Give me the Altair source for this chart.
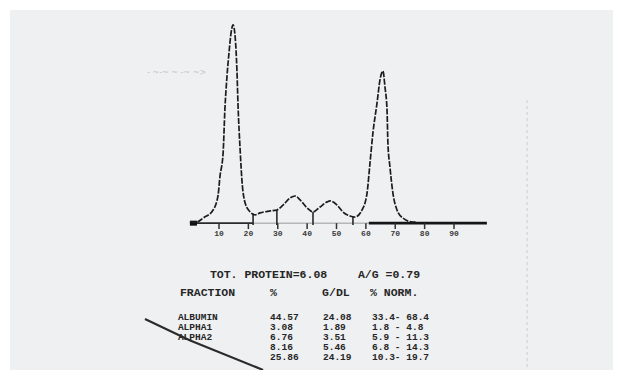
import altair as alt
import pandas as pd

# densitometer trace (x: migration units, y: relative absorbance)
trace_x = [0.1, 2.5, 4.6, 8.0, 9.7, 10.3, 11.4, 12.0, 12.7, 13.4, 14.1, 14.8, 15.5, 16.1, 16.5,
           17.2, 17.8, 18.9, 20.6, 22.3, 24.0, 27.4, 29.7, 31.8, 34.2, 35.9, 37.6, 40.0, 42.0,
           44.4, 46.8, 47.8, 50.2, 52.2, 54.6, 56.3, 58.7, 60.4, 61.4, 62.4, 63.8, 64.8, 65.8,
           66.5, 67.2, 67.5, 68.2, 69.2, 70.6, 72.6, 76.0, 77.4]
trace_y = [0.0, 0.0, 2.0, 6.1, 13.7, 22.8, 35.0, 56.9, 73.6, 85.8, 95.9, 100.0, 93.9, 77.2, 58.4,
           36.5, 21.3, 9.6, 5.1, 3.6, 4.6, 5.6, 6.1, 8.6, 12.2, 13.2, 11.2, 7.1, 5.1,
           7.6, 10.2, 10.7, 8.6, 5.1, 3.0, 2.5, 6.1, 14.7, 29.9, 45.2, 60.4, 72.1, 76.6,
           68.5, 56.9, 40.1, 27.9, 14.7, 6.1, 2.0, 0.0, 0.0]

tick_values = [10, 20, 30, 40, 50, 60, 70, 80, 90]
tick_labels = ["10", "20", "30", "40", "50", "60", "70", "80", "90"]

separator_x = [21.6, 29.7, 42.0, 55.6]
separator_top = [4.3, 6.1, 5.1, 2.6]

baseline_left = [0.1, 21.6]
baseline_mid = [21.6, 61.0]
baseline_right = [61.0, 101.2]
baseline_blob = [0.1, 2.5]

summary_left = "TOT. PROTEIN=6.08"
summary_right = "A/G =0.79"
headers = ["FRACTION", "%", "G/DL", "% NORM."]
fractions = ["ALBUMIN", "ALPHA1", "ALPHA2", "", ""]
percents = ["44.57", "3.08", "6.76", "8.16", "25.86"]
gdl = ["24.08", "1.89", "3.51", "5.46", "24.19"]
normal = ["33.4- 68.4", "1.8 - 4.8", "5.9 - 11.3", "6.8 - 14.3", "10.3- 19.7"]

# scales (data units)
XS = alt.Scale(domain=[-61.15, 144.13], nice=False, zero=False)
YS = alt.Scale(domain=[-75.13, 107.6], nice=False, zero=False)
X = lambda f: alt.X(f, type="quantitative", scale=XS, axis=None)
Y = lambda f: alt.Y(f, type="quantitative", scale=YS, axis=None)

FONT = "Liberation Mono"
INK = "#262626"

trace = alt.Chart(pd.DataFrame({"x": trace_x, "y": trace_y})).mark_line(
    color="#1c1c1c", strokeWidth=1.7, interpolate="monotone", strokeDash=[6, 1.5]
).encode(x=X("x"), y=Y("y"), order="x:Q")

def seg(xs, width, color):
    return alt.Chart(pd.DataFrame({"a": [xs[0]], "b": [xs[1]], "y": [-0.6]})).mark_rule(
        strokeWidth=width, color=color
    ).encode(x=X("a"), x2="b", y=Y("y"))

base_l = seg(baseline_left, 1.8, "#2a2a2a")
base_m = seg(baseline_mid, 1.0, "#9a9a9a")
base_r = seg(baseline_right, 2.6, "#151515")
base_b = seg(baseline_blob, 5, "#111111")

sep = alt.Chart(pd.DataFrame({"x": separator_x, "top": separator_top, "b": [-1.5] * 4})).mark_rule(
    strokeWidth=1.6, color="#2a2a2a"
).encode(x=X("x"), y=Y("b"), y2="top")

ticks = alt.Chart(pd.DataFrame({"x": tick_values, "a": [-0.6] * 9, "b": [-3.6] * 9})).mark_rule(
    strokeWidth=1.5, color="#333333"
).encode(x=X("x"), y=Y("a"), y2="b")

tick_text = alt.Chart(pd.DataFrame({"x": tick_values, "t": tick_labels, "y": [-6.1] * 9})).mark_text(
    font=FONT, fontSize=8, fontWeight="bold", color="#3a3a3a", baseline="middle", align="center"
).encode(x=X("x"), y=Y("y"), text="t:N")

summary = alt.Chart(pd.DataFrame({"x": [6.9, 57.3], "y": [-26.9, -26.9],
                                  "t": [summary_left, summary_right]})).mark_text(
    font=FONT, fontSize=11.5, fontWeight="bold", color=INK, align="left", baseline="middle"
).encode(x=X("x"), y=Y("y"), text="t:N")

head = alt.Chart(pd.DataFrame({"x": [-3.3, 27.4, 45.1, 61.4], "y": [-36.0] * 4, "t": headers})).mark_text(
    font=FONT, fontSize=11.5, fontWeight="bold", color=INK, align="left", baseline="middle"
).encode(x=X("x"), y=Y("y"), text="t:N")

row_y = [-48.2, -53.3, -58.4, -63.5, -68.5]
rows = []
for col_x, vals in [(-4.0, fractions), (27.4, percents), (45.4, gdl), (62.1, normal)]:
    rows.append(alt.Chart(pd.DataFrame({"x": [col_x] * 5, "y": row_y, "t": vals})).mark_text(
        font=FONT, fontSize=9.5, fontWeight="bold", color=INK, align="left", baseline="middle"
    ).encode(x=X("x"), y=Y("y"), text="t:N"))

pen = alt.Chart(pd.DataFrame({"x": [-15.2, 0.0, 25.0], "y": [-49.2, -60.0, -75.1]})).mark_line(
    color="#2b2b2b", strokeWidth=2.2, clip=True
).encode(x=X("x"), y=Y("y"))

scribble = alt.Chart(pd.DataFrame({"x": [-14.5], "y": [75.6], "t": ["- ~-~ ~ -~ ~>"]})).mark_text(
    font="DejaVu Sans", fontSize=8, color="#c4c4c4", align="left", baseline="middle"
).encode(x=X("x"), y=Y("y"), text="t:N")

edge = alt.Chart(pd.DataFrame({"x": [114.9], "a": [61.9], "b": [-75.1]})).mark_rule(
    color="#cdcdcd", strokeWidth=1, strokeDash=[3, 3]
).encode(x=X("x"), y=Y("a"), y2="b")

chart = alt.layer(
    edge, scribble, base_m, base_l, base_r, base_b, sep, ticks, trace, tick_text,
    summary, head, *rows, pen
).properties(
    width=603, height=360,
    padding={"left": 2, "top": 2, "right": 0, "bottom": 0},
    autosize=alt.AutoSizeParams(type="none"),
    background="white",
).configure_view(fill="#eff0f2", stroke=None)

chart.save("out.html", embed_options={"renderer": "svg", "actions": False})
